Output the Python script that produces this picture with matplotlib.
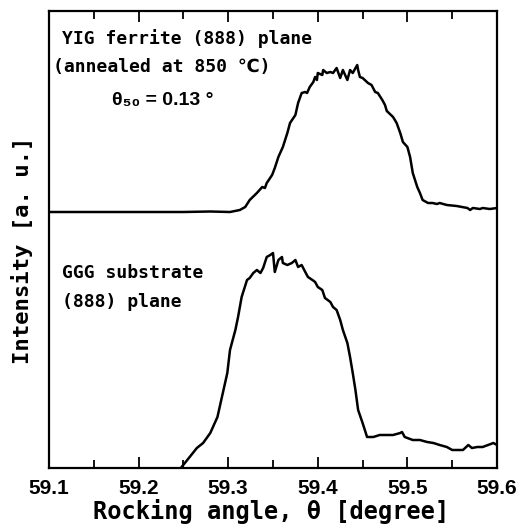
import matplotlib
matplotlib.use("Agg")
import matplotlib.pyplot as plt
from matplotlib.ticker import MultipleLocator

# ---- data ----
yig_theta = [59.100, 59.150, 59.200, 59.250, 59.280, 59.302, 59.313, 59.319, 59.324, 59.332,
             59.338, 59.341, 59.343, 59.349, 59.352, 59.356, 59.361, 59.366, 59.369, 59.375,
             59.378, 59.382, 59.386, 59.388, 59.391, 59.395, 59.397, 59.399, 59.400, 59.405,
             59.406, 59.410, 59.414, 59.417, 59.421, 59.425, 59.428, 59.433, 59.436, 59.439,
             59.444, 59.445, 59.447, 59.450, 59.456, 59.460, 59.464, 59.467, 59.472, 59.475,
             59.477, 59.484, 59.488, 59.492, 59.495, 59.500, 59.503, 59.506, 59.511, 59.514,
             59.517, 59.523, 59.528, 59.533, 59.536, 59.544, 59.555, 59.567, 59.570, 59.573,
             59.581, 59.584, 59.592, 59.600]
yig_int = [256, 256, 256, 256, 256.5, 256, 258, 261, 268, 275,
           281, 280, 285, 293, 300, 311, 321, 335, 345, 353,
           365, 375, 376, 375, 381, 386, 391, 388, 395, 393,
           398, 395, 396, 395, 400, 390, 398, 388, 398, 395,
           403, 398, 391, 390, 385, 383, 376, 375, 368, 363,
           357, 351, 345, 335, 326, 321, 311, 295, 281, 275,
           268, 265, 265, 264, 265, 263, 262, 260, 258, 260,
           259, 260, 259, 260]

ggg_theta = [59.235, 59.248, 59.257, 59.265, 59.272, 59.280, 59.288, 59.293, 59.299, 59.302,
             59.308, 59.311, 59.315, 59.321, 59.324, 59.328, 59.332, 59.336, 59.339, 59.343,
             59.347, 59.350, 59.352, 59.356, 59.360, 59.361, 59.366, 59.371, 59.375, 59.378,
             59.382, 59.386, 59.389, 59.394, 59.397, 59.400, 59.405, 59.408, 59.414, 59.417,
             59.421, 59.425, 59.428, 59.433, 59.436, 59.439, 59.442, 59.445, 59.450, 59.455,
             59.462, 59.469, 59.477, 59.484, 59.492, 59.494, 59.497, 59.506, 59.514, 59.522,
             59.529, 59.536, 59.544, 59.550, 59.555, 59.562, 59.568, 59.572, 59.578, 59.584,
             59.590, 59.596, 59.600]
ggg_int = [-15, 1, 11, 20, 25, 35, 51, 71, 95, 118,
           138, 151, 171, 188, 190, 195, 198, 195, 200, 211,
           213, 215, 196, 208, 211, 205, 203, 205, 208, 201,
           203, 196, 191, 188, 186, 181, 178, 170, 166, 161,
           158, 148, 138, 125, 111, 95, 78, 58, 45, 31,
           31, 33, 33, 33, 35, 36, 31, 28, 28, 26,
           25, 23, 21, 18, 18, 18, 23, 20, 21, 21,
           23, 25, 23]

x_ticks = [59.1, 59.2, 59.3, 59.4, 59.5, 59.6]
x_tick_labels = ["59.1", "59.2", "59.3", "59.4", "59.5", "59.6"]

# ---- figure ----
W, H = 520, 531
fig = plt.figure(figsize=(W / 100, H / 100), dpi=100)
ax = fig.add_axes([49 / W, (H - 468) / H, (497 - 49) / W, (468 - 11) / H])

mono = ["DejaVu Sans Mono", "DejaVu Sans"]

ax.plot(yig_theta, yig_int, color="black", lw=1.8)
ax.plot(ggg_theta, ggg_int, color="black", lw=1.8)

ax.set_xlim(59.1, 59.6)
ax.set_ylim(0, 457)
ax.set_yticks([])
ax.set_xticks(x_ticks)
ax.set_xticklabels(x_tick_labels, fontfamily="Liberation Sans", fontsize=15, fontweight="bold")
ax.xaxis.set_minor_locator(MultipleLocator(0.05))
ax.tick_params(axis="x", which="both", direction="in", top=True, bottom=True, width=1.3, pad=8)
ax.tick_params(axis="x", which="major", length=8)
ax.tick_params(axis="x", which="minor", length=6)
for s in ax.spines.values():
    s.set_linewidth(1.6)

ax.set_xlabel("Rocking angle, θ [degree]", family=mono, fontsize=17, fontweight="bold")
ax.xaxis.set_label_coords(0.496, -0.068)
ax.set_ylabel("Intensity [a. u.]", family=mono, fontsize=16, fontweight="bold")
ax.yaxis.set_label_coords(-0.036, 0.477)

ax.text(0.029, 0.939, "YIG ferrite (888) plane", transform=ax.transAxes,
        family=mono, fontsize=13, fontweight="bold", va="center", ha="left")
ax.text(0.009, 0.877, "(annealed at 850 ℃)", transform=ax.transAxes,
        family=mono, fontsize=13, fontweight="bold", va="center", ha="left")
ax.text(0.141, 0.805, "θ₅₀ = 0.13 °", transform=ax.transAxes,
        family=["Liberation Sans", "DejaVu Sans"], fontsize=14, fontweight="bold",
        va="center", ha="left")
ax.text(0.029, 0.427, "GGG substrate", transform=ax.transAxes,
        family=mono, fontsize=13, fontweight="bold", va="center", ha="left")
ax.text(0.029, 0.363, "(888) plane", transform=ax.transAxes,
        family=mono, fontsize=13, fontweight="bold", va="center", ha="left")

fig.savefig("out.png", dpi=100)
